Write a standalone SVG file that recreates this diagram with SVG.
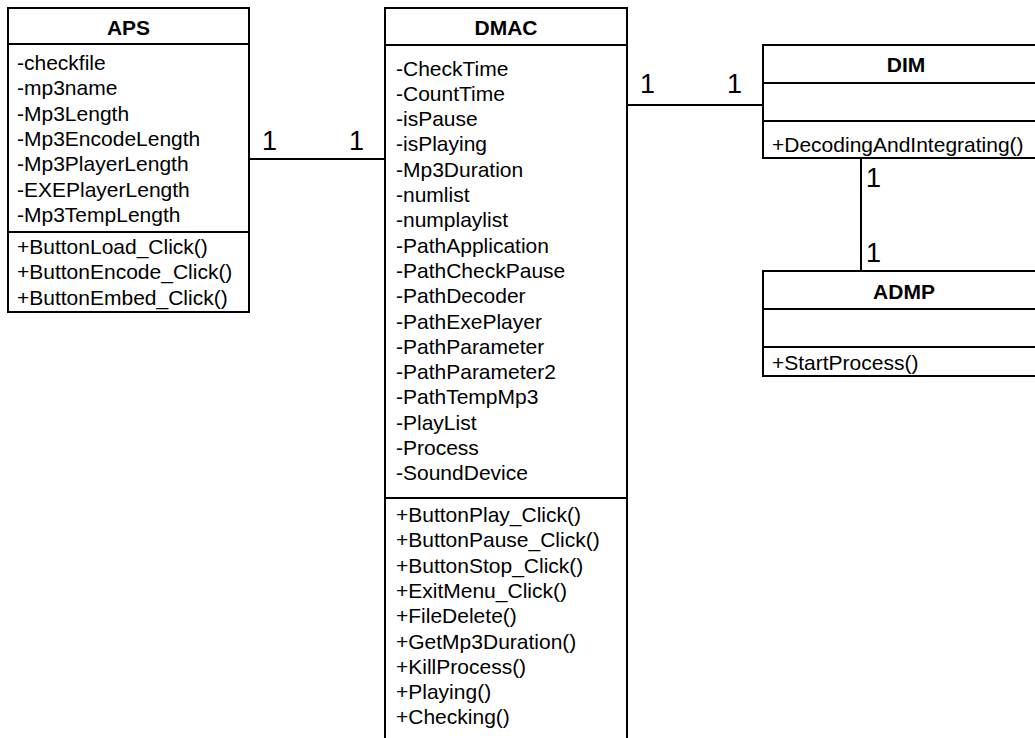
<svg xmlns="http://www.w3.org/2000/svg" width="1035" height="738" viewBox="0 0 1035 738">
<style>
.box{fill:#fff;stroke:#000;stroke-width:2}
.ln{stroke:#000;stroke-width:2;fill:none}
.t{font-family:"Liberation Sans",Arial,sans-serif;font-size:21px;fill:#000}
.h{font-family:"Liberation Sans",Arial,sans-serif;font-size:21px;font-weight:bold;fill:#000;text-anchor:middle}
.m{font-family:"Liberation Sans",Arial,sans-serif;font-size:27px;fill:#000}
</style>
<rect width="1035" height="738" fill="#fff"/>
<g id="connectors">
<line class="ln" x1="249" y1="159" x2="385" y2="159"/>
<line class="ln" x1="627" y1="105" x2="763" y2="105"/>
<line class="ln" x1="861" y1="158" x2="861" y2="271"/>
<text class="m" x="262" y="150">1</text>
<text class="m" x="349" y="150">1</text>
<text class="m" x="640" y="93">1</text>
<text class="m" x="727" y="93">1</text>
<text class="m" x="866" y="187">1</text>
<text class="m" x="866" y="262">1</text>
</g>
<g id="APS">
<rect class="box" x="8" y="8" width="241" height="304"/>
<line class="ln" x1="8" y1="44" x2="249" y2="44"/>
<line class="ln" x1="8" y1="232" x2="249" y2="232"/>
<text class="h" x="128.5" y="35">APS</text>
<text class="t" x="17" y="70">-checkfile</text>
<text class="t" x="17" y="95.3">-mp3name</text>
<text class="t" x="17" y="120.6">-Mp3Length</text>
<text class="t" x="17" y="145.9">-Mp3EncodeLength</text>
<text class="t" x="17" y="171.2">-Mp3PlayerLength</text>
<text class="t" x="17" y="196.5">-EXEPlayerLength</text>
<text class="t" x="17" y="221.8">-Mp3TempLength</text>
<text class="t" x="17" y="254">+ButtonLoad_Click()</text>
<text class="t" x="17" y="279.3">+ButtonEncode_Click()</text>
<text class="t" x="17" y="304.6">+ButtonEmbed_Click()</text>
</g>
<g id="DMAC">
<rect class="box" x="385" y="8" width="242" height="740"/>
<line class="ln" x1="385" y1="45" x2="627" y2="45"/>
<line class="ln" x1="385" y1="498" x2="627" y2="498"/>
<text class="h" x="506" y="35">DMAC</text>
<text class="t" x="396" y="75.5">-CheckTime</text>
<text class="t" x="396" y="100.8">-CountTime</text>
<text class="t" x="396" y="126.1">-isPause</text>
<text class="t" x="396" y="151.4">-isPlaying</text>
<text class="t" x="396" y="176.7">-Mp3Duration</text>
<text class="t" x="396" y="202">-numlist</text>
<text class="t" x="396" y="227.3">-numplaylist</text>
<text class="t" x="396" y="252.6">-PathApplication</text>
<text class="t" x="396" y="277.9">-PathCheckPause</text>
<text class="t" x="396" y="303.2">-PathDecoder</text>
<text class="t" x="396" y="328.5">-PathExePlayer</text>
<text class="t" x="396" y="353.8">-PathParameter</text>
<text class="t" x="396" y="379.1">-PathParameter2</text>
<text class="t" x="396" y="404.4">-PathTempMp3</text>
<text class="t" x="396" y="429.7">-PlayList</text>
<text class="t" x="396" y="455">-Process</text>
<text class="t" x="396" y="480.3">-SoundDevice</text>
<text class="t" x="396" y="522">+ButtonPlay_Click()</text>
<text class="t" x="396" y="547.3">+ButtonPause_Click()</text>
<text class="t" x="396" y="572.6">+ButtonStop_Click()</text>
<text class="t" x="396" y="597.9">+ExitMenu_Click()</text>
<text class="t" x="396" y="623.2">+FileDelete()</text>
<text class="t" x="396" y="648.5">+GetMp3Duration()</text>
<text class="t" x="396" y="673.8">+KillProcess()</text>
<text class="t" x="396" y="699.1">+Playing()</text>
<text class="t" x="396" y="724.4">+Checking()</text>
</g>
<g id="DIM">
<rect class="box" x="763" y="45" width="285" height="113"/>
<line class="ln" x1="763" y1="83" x2="1048" y2="83"/>
<line class="ln" x1="763" y1="121" x2="1048" y2="121"/>
<text class="h" x="906" y="72">DIM</text>
<text class="t" x="772" y="152">+DecodingAndIntegrating()</text>
</g>
<g id="ADMP">
<rect class="box" x="763" y="271" width="285" height="105"/>
<line class="ln" x1="763" y1="309" x2="1048" y2="309"/>
<line class="ln" x1="763" y1="347" x2="1048" y2="347"/>
<text class="h" x="904" y="299">ADMP</text>
<text class="t" x="772" y="370">+StartProcess()</text>
</g>
</svg>
